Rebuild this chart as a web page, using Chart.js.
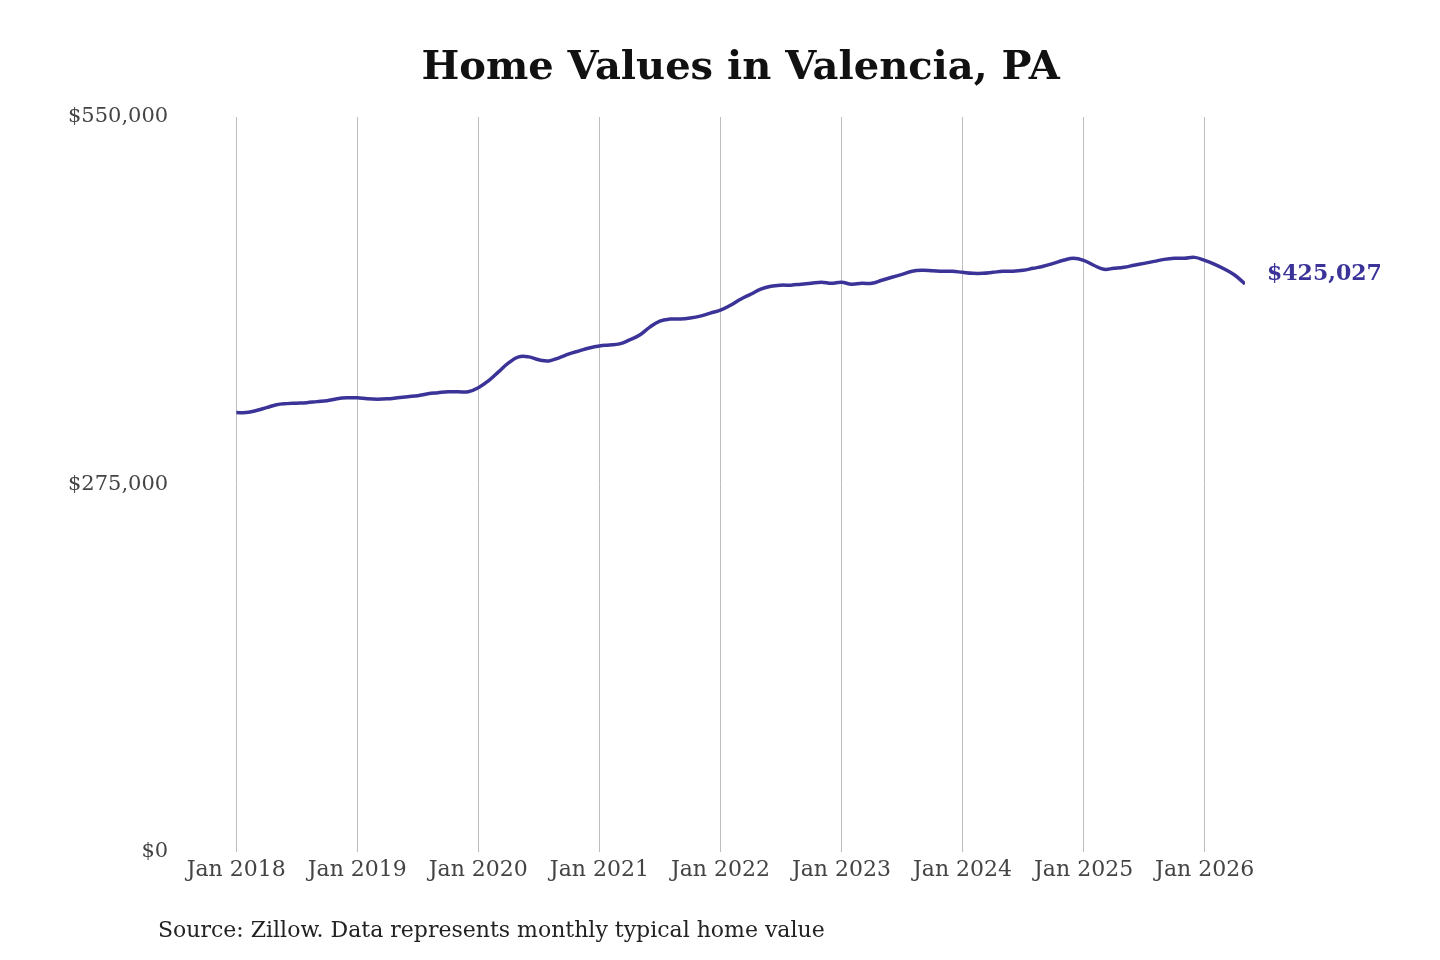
<!DOCTYPE html>
<html>
<head>
<meta charset="utf-8">
<script src="https://cdn.jsdelivr.net/npm/chart.js@4"></script>
<style>
  body { margin: 0; background: #fff; }
  #wrap { width: 1440px; height: 960px; }
</style>
</head>
<body>
<div id="wrap"><canvas id="chart"></canvas></div>
<script>
// Monthly typical home value, Jan 2018 .. May 2026
const startYear = 2018;
const values = [
  328700, 328700, 330200, 332400, 334600, 335400, 335700, 336100, 336900, 337600, 339100, 339800,
  339800, 339000, 338700, 339000, 339800, 340600, 341300, 342800, 343600, 344300, 344300, 344300,
  347300, 352500, 359200, 365900, 370400, 370400, 368200, 367400, 369700, 372600, 374900, 377100,
  378600, 379300, 380100, 383100, 386800, 392700, 397200, 398700, 398700, 399500, 400900, 403200,
  405400, 409100, 413600, 417300, 421100, 423300, 424100, 424100, 424800, 425500, 426300, 425500,
  426300, 424800, 425500, 425500, 427800, 430000, 432200, 434500, 435200, 434900, 434500, 434500,
  433700, 433000, 433000, 433700, 434500, 434500, 435200, 436700, 438200, 440400, 442700, 444200,
  442700, 439000, 436000, 436700, 437500, 439000, 440400, 441900, 443400, 444200, 444200, 444900,
  442700, 439700, 436000, 431500, 425027
];
const yTicks = [0, 275000, 550000];
const lineColor = '#3b3397';
const serif = '"DejaVu Serif", serif';

const points = values.map((v, i) => ({ x: i, y: v }));
const fmt = v => '$' + v.toLocaleString('en-US');

const textPlugin = {
  id: 'texts',
  afterDraw(chart) {
    const ctx = chart.ctx;
    const area = chart.chartArea;
    ctx.save();
    ctx.fillStyle = '#111';
    ctx.font = 'bold 40px ' + serif;
    ctx.textAlign = 'center';
    ctx.textBaseline = 'middle';
    ctx.fillText('Home Values in Valencia, PA', (area.left + area.right) / 2, 69);

    ctx.font = '22px ' + serif;
    ctx.textAlign = 'left';
    ctx.fillStyle = '#222';
    ctx.fillText('Source: Zillow. Data represents monthly typical home value', 158, 931);

    const last = values.length - 1;
    const px = chart.scales.x.getPixelForValue(last);
    const py = chart.scales.y.getPixelForValue(values[last]);
    ctx.font = 'bold 22px ' + serif;
    ctx.fillStyle = lineColor;
    ctx.fillText(fmt(values[last]), px + 22, py - 10);
    ctx.restore();
  }
};

new Chart(document.getElementById('chart'), {
  type: 'line',
  data: {
    datasets: [{
      data: points,
      borderColor: lineColor,
      borderWidth: 3.5,
      pointRadius: 0,
      tension: 0.4,
      fill: false
    }]
  },
  options: {
    responsive: true,
    maintainAspectRatio: false,
    animation: false,
    layout: { padding: { top: 117, right: 195, bottom: 72, left: 8 } },
    plugins: { legend: { display: false }, tooltip: { enabled: false } },
    scales: {
      x: {
        type: 'linear',
        min: 0,
        max: values.length - 1,
        afterBuildTicks: axis => {
          axis.ticks = [];
          for (let m = 0; m < values.length; m += 12) axis.ticks.push({ value: m });
        },
        ticks: {
          callback: v => 'Jan ' + (startYear + v / 12),
          color: '#444',
          font: { family: serif, size: 22 },
          padding: 5,
          maxRotation: 0
        },
        grid: { color: '#bdbdbd', lineWidth: 1, drawTicks: false },
        border: { display: false }
      },
      y: {
        min: 0,
        max: 550000,
        afterBuildTicks: axis => { axis.ticks = yTicks.map(v => ({ value: v })); },
        ticks: {
          callback: v => fmt(v),
          color: '#444',
          font: { family: serif, size: 21 },
          padding: 60
        },
        grid: { display: false },
        border: { display: false }
      }
    }
  },
  plugins: [textPlugin]
});
</script>
</body>
</html>
